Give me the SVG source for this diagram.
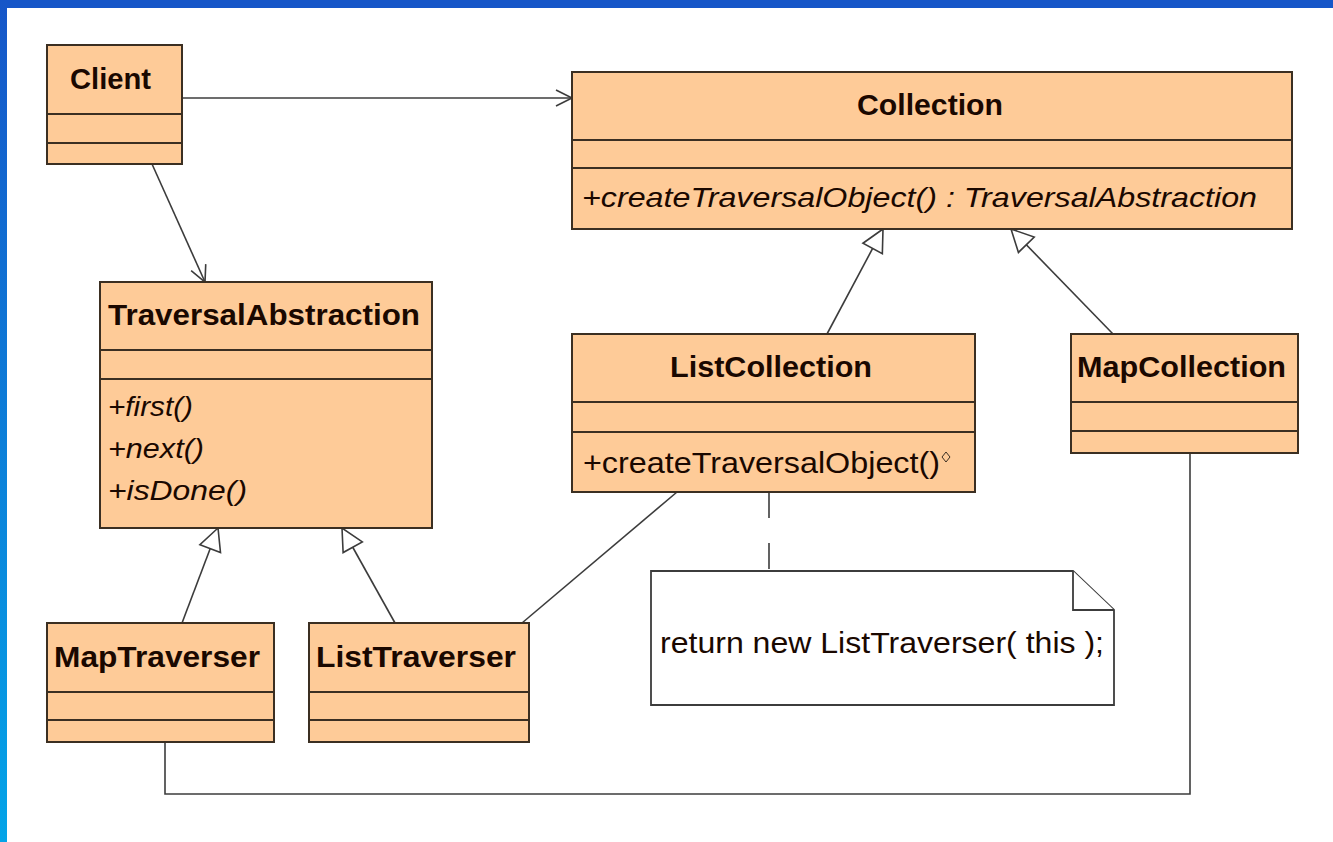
<svg xmlns="http://www.w3.org/2000/svg" width="1333" height="842" viewBox="0 0 1333 842">
  <style>
    .box { fill: #fecb98; stroke: #3b2f22; stroke-width: 2; }
    .div { stroke: #3b2f22; stroke-width: 2; }
    .name { font-family: "Liberation Sans", Arial, sans-serif; font-weight: bold; font-size: 29px; fill: #1a0800; }
    .op { font-family: "Liberation Sans", Arial, sans-serif; font-style: italic; font-size: 28px; fill: #1a0800; }
    .opr { font-family: "Liberation Sans", Arial, sans-serif; font-size: 29px; fill: #1a0800; }
    .note { fill: #ffffff; stroke: #3c3c3c; stroke-width: 1.8; }
    .conn { fill: none; stroke: #3c3c3c; stroke-width: 1.6; }
  </style>
  <defs>
    <linearGradient id="edge" x1="0" y1="0" x2="0" y2="1">
      <stop offset="0" stop-color="#1656c8"/>
      <stop offset="1" stop-color="#03a4e8"/>
    </linearGradient>
    <marker id="open" markerUnits="userSpaceOnUse" markerWidth="40" markerHeight="40" viewBox="-20 -20 40 40" refX="0" refY="0" orient="auto">
      <path d="M-16,-8 L0,0 L-16,8" fill="none" stroke="#3c3c3c" stroke-width="1.6"/>
    </marker>
    <marker id="inherit" markerUnits="userSpaceOnUse" markerWidth="60" markerHeight="60" viewBox="-30 -30 60 60" refX="0" refY="0" orient="auto">
      <path d="M0,0 L-22,-11 L-22,11 Z" fill="#ffffff" stroke="#3c3c3c" stroke-width="1.6"/>
    </marker>
  </defs>

  <!-- page background and frame -->
  <rect x="0" y="0" width="1333" height="842" fill="#ffffff"/>
  <rect x="0" y="0" width="1333" height="8" fill="#1656c8"/>
  <rect x="0" y="0" width="7" height="842" fill="url(#edge)"/>

  <!-- connectors -->
  <g id="connectors">
    <line class="conn" x1="182" y1="98" x2="572" y2="98" marker-end="url(#open)"/>
    <line class="conn" x1="152" y1="164" x2="205" y2="282" marker-end="url(#open)"/>
    <line class="conn" x1="827" y1="334" x2="883" y2="229" marker-end="url(#inherit)"/>
    <line class="conn" x1="1113" y1="334" x2="1011" y2="229" marker-end="url(#inherit)"/>
    <line class="conn" x1="182" y1="623" x2="218" y2="528" marker-end="url(#inherit)"/>
    <line class="conn" x1="395" y1="623" x2="342" y2="528" marker-end="url(#inherit)"/>
    <line class="conn" x1="522" y1="623" x2="677" y2="492"/>
    <line class="conn" x1="769" y1="492" x2="769" y2="571" stroke-dasharray="26 25"/>
    <polyline class="conn" points="165,742 165,794 1190,794 1190,453"/>
  </g>

  <!-- Client -->
  <g id="client">
    <rect class="box" x="47" y="45" width="135" height="119"/>
    <line class="div" x1="47" y1="114" x2="182" y2="114"/>
    <line class="div" x1="47" y1="143" x2="182" y2="143"/>
    <text class="name" x="70" y="89" textLength="81" lengthAdjust="spacingAndGlyphs">Client</text>
  </g>

  <!-- Collection -->
  <g id="collection">
    <rect class="box" x="572" y="72" width="720" height="157"/>
    <line class="div" x1="572" y1="140" x2="1292" y2="140"/>
    <line class="div" x1="572" y1="168" x2="1292" y2="168"/>
    <text class="name" x="857" y="115" textLength="146" lengthAdjust="spacingAndGlyphs">Collection</text>
    <text class="op" x="582" y="207" textLength="675" lengthAdjust="spacingAndGlyphs">+createTraversalObject() : TraversalAbstraction</text>
  </g>

  <!-- TraversalAbstraction -->
  <g id="traversal-abstraction">
    <rect class="box" x="100" y="282" width="332" height="246"/>
    <line class="div" x1="100" y1="350" x2="432" y2="350"/>
    <line class="div" x1="100" y1="379" x2="432" y2="379"/>
    <text class="name" x="108" y="325" textLength="312" lengthAdjust="spacingAndGlyphs">TraversalAbstraction</text>
    <text class="op" x="108" y="416" textLength="85" lengthAdjust="spacingAndGlyphs">+first()</text>
    <text class="op" x="108" y="458" textLength="96" lengthAdjust="spacingAndGlyphs">+next()</text>
    <text class="op" x="108" y="500" textLength="139" lengthAdjust="spacingAndGlyphs">+isDone()</text>
  </g>

  <!-- ListCollection -->
  <g id="list-collection">
    <rect class="box" x="572" y="334" width="403" height="158"/>
    <line class="div" x1="572" y1="402" x2="975" y2="402"/>
    <line class="div" x1="572" y1="432" x2="975" y2="432"/>
    <text class="name" x="670" y="377" textLength="202" lengthAdjust="spacingAndGlyphs">ListCollection</text>
    <text class="opr" x="583" y="473" textLength="357" lengthAdjust="spacingAndGlyphs">+createTraversalObject()</text>
    <polygon points="946,452 950,457 946,462 942,457" fill="none" stroke="#3b2f22" stroke-width="1"/>
  </g>

  <!-- MapCollection -->
  <g id="map-collection">
    <rect class="box" x="1071" y="334" width="227" height="119"/>
    <line class="div" x1="1071" y1="402" x2="1298" y2="402"/>
    <line class="div" x1="1071" y1="431" x2="1298" y2="431"/>
    <text class="name" x="1077" y="377" textLength="209" lengthAdjust="spacingAndGlyphs">MapCollection</text>
  </g>

  <!-- MapTraverser -->
  <g id="map-traverser">
    <rect class="box" x="47" y="623" width="227" height="119"/>
    <line class="div" x1="47" y1="692" x2="274" y2="692"/>
    <line class="div" x1="47" y1="720" x2="274" y2="720"/>
    <text class="name" x="54" y="667" textLength="206" lengthAdjust="spacingAndGlyphs">MapTraverser</text>
  </g>

  <!-- ListTraverser -->
  <g id="list-traverser">
    <rect class="box" x="309" y="623" width="220" height="119"/>
    <line class="div" x1="309" y1="692" x2="529" y2="692"/>
    <line class="div" x1="309" y1="720" x2="529" y2="720"/>
    <text class="name" x="316" y="667" textLength="200" lengthAdjust="spacingAndGlyphs">ListTraverser</text>
  </g>

  <!-- note attached to ListCollection.createTraversalObject() -->
  <g id="note">
    <polygon class="note" points="651,571 1073,571 1114,610 1114,705 651,705"/>
    <polyline class="note" points="1073,571 1073,610 1114,610" fill="none"/>
    <text class="opr" x="660" y="653" textLength="444" lengthAdjust="spacingAndGlyphs">return new ListTraverser( this );</text>
  </g>
</svg>
